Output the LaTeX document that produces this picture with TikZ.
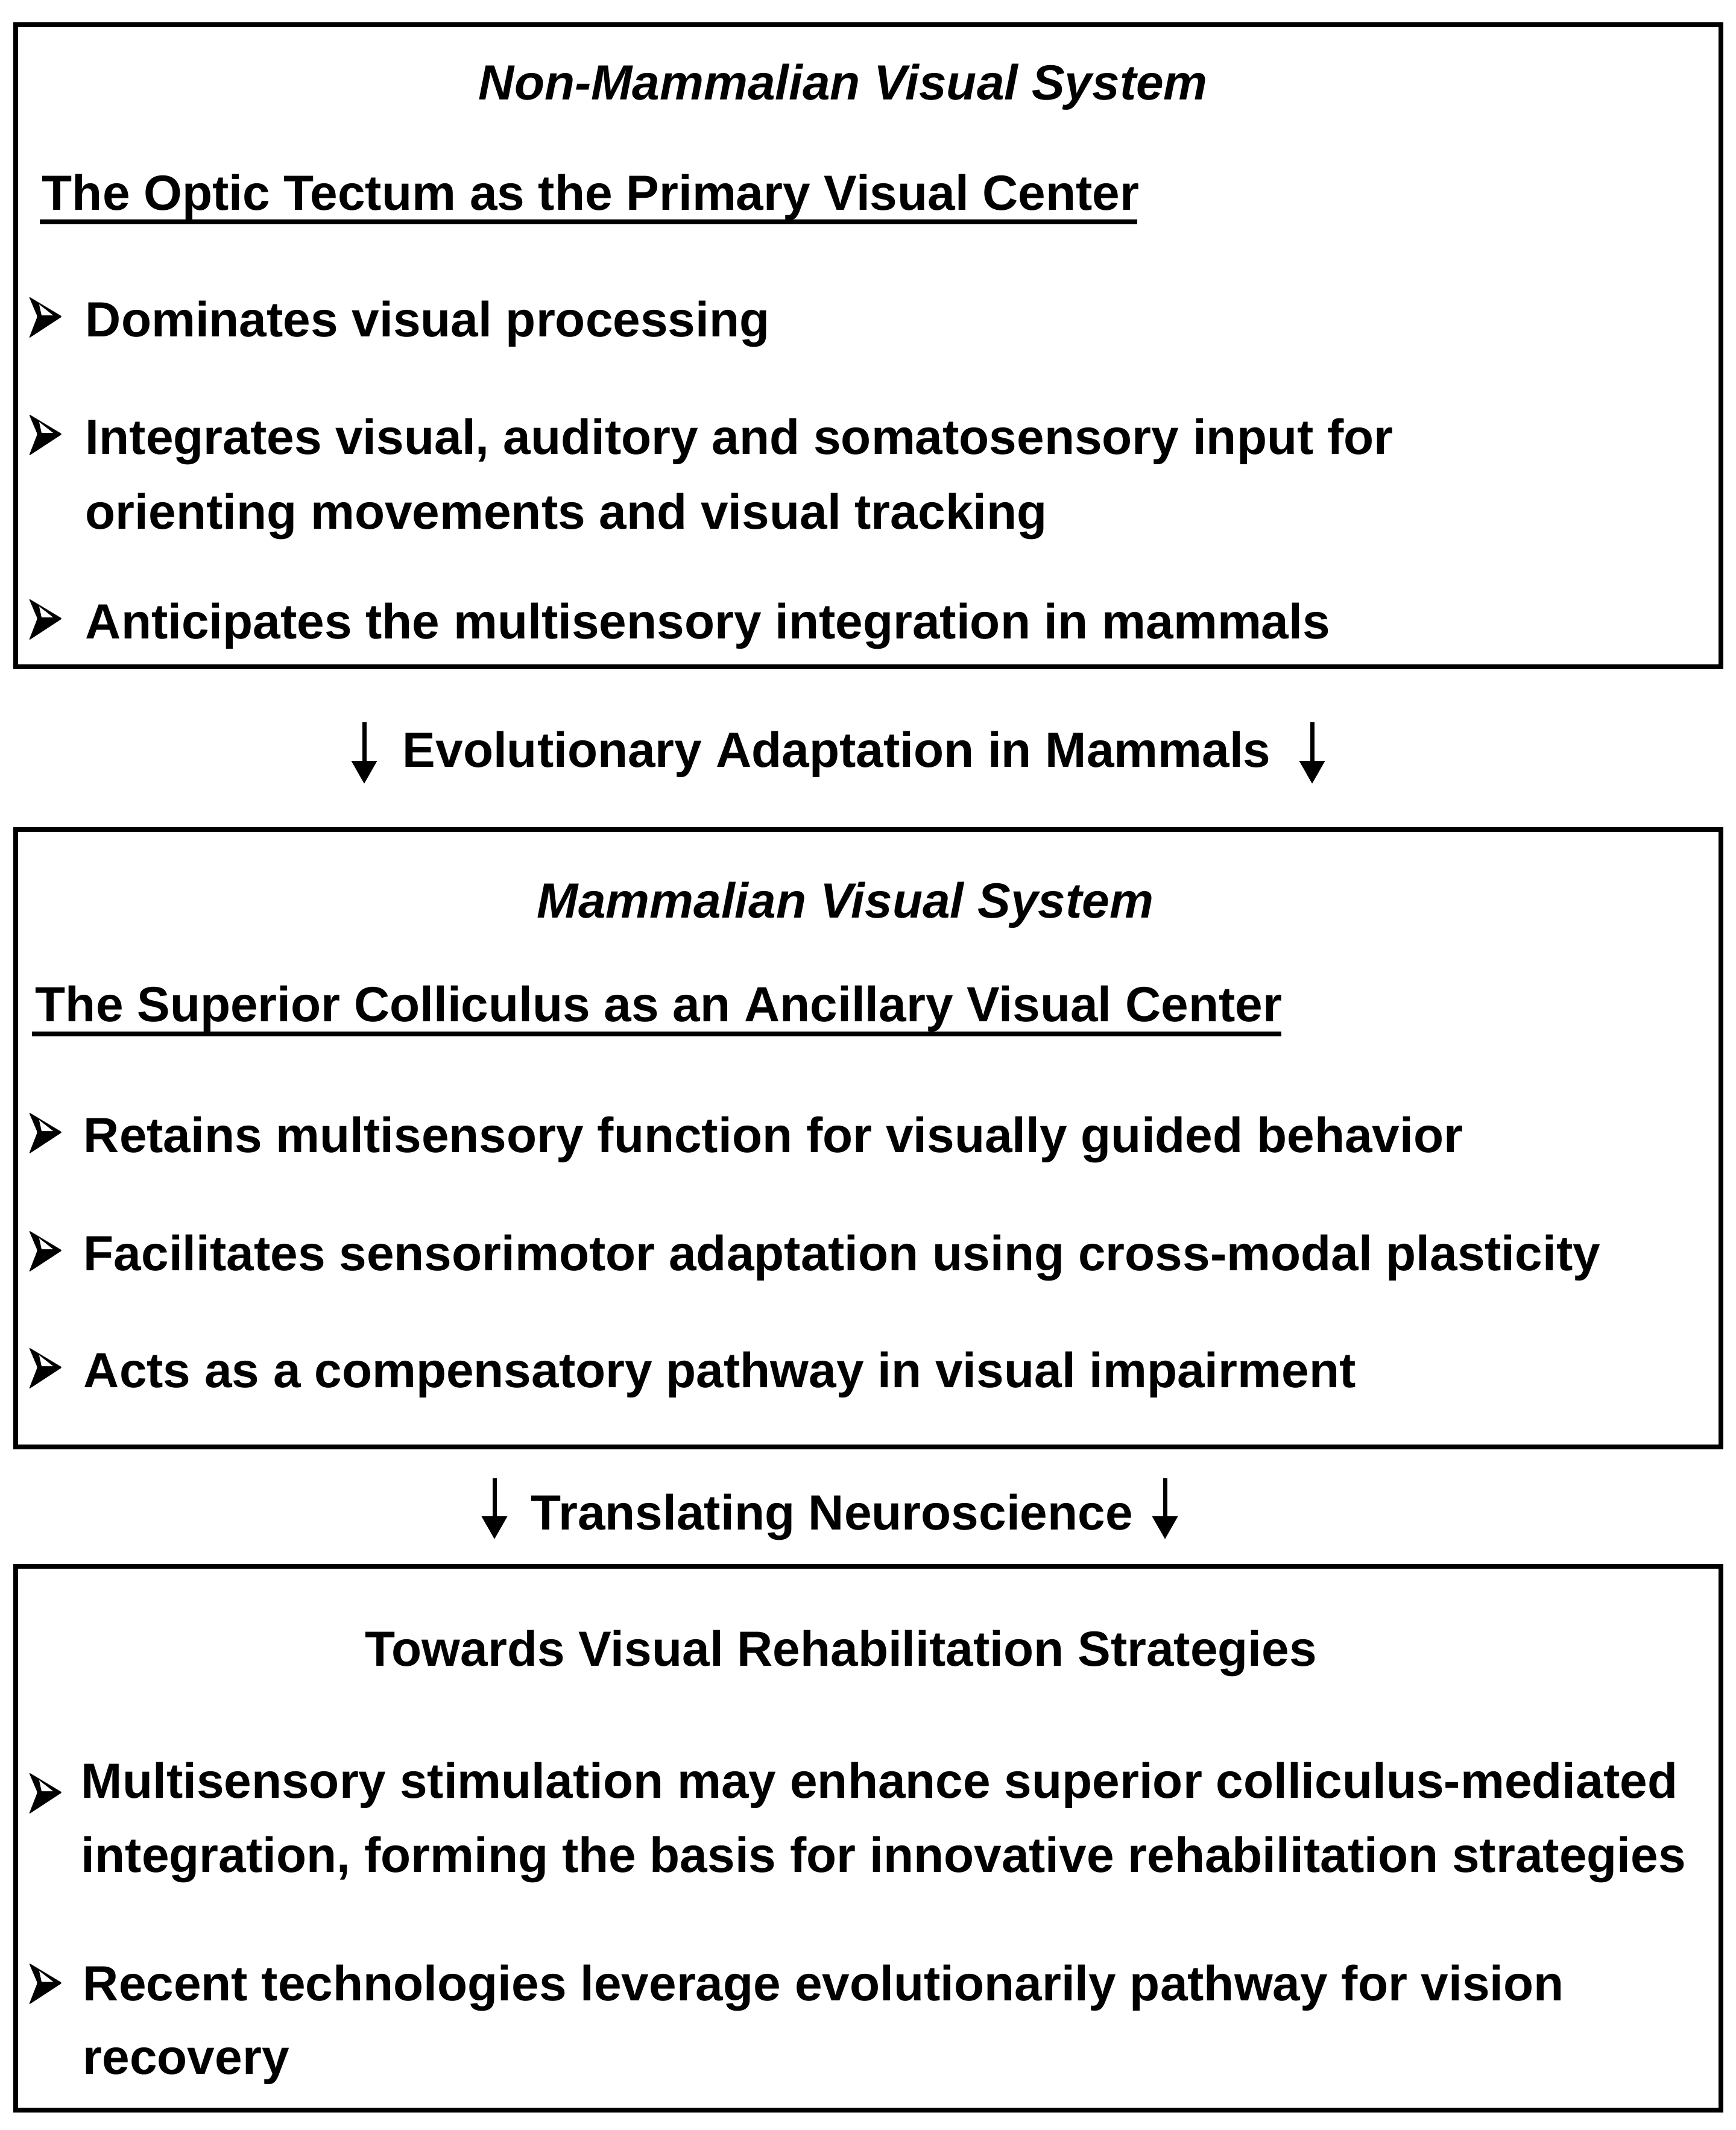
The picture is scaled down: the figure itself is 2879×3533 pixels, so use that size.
\documentclass[tikz,border=0pt]{standalone}
\usepackage{fontspec}
\setmainfont{Liberation Sans}
\usetikzlibrary{arrows.meta,calc}
\newcommand\mainfnt{\fontsize{20.5pt}{24pt}\selectfont\bfseries}
\tikzset{
  panel/.style={draw=black, line width=2pt, inner sep=0pt, minimum width=706.9pt},
  txt/.style={anchor=base west, inner sep=0pt, font=\mainfnt},
  ttl/.style={anchor=base west, inner sep=0pt, font=\mainfnt\itshape},
  flowarrow/.style={-{Triangle[width=10.25pt,length=9.5pt]}, line width=1.75pt},
  uline/.style={line width=2pt},
  arrowbullet/.pic={
    \fill[rounded corners=0.6pt] (0,0) -- (55,33) -- (0,69) -- (14,33) -- cycle;
    \fill[white] (17,13) -- (40,31) -- (21,31) -- cycle;
  }
}
\begin{document}
\begin{tikzpicture}[x=0.25pt,y=-0.25pt]
\useasboundingbox (0,0) rectangle (2879,3533);
% panels
\node[panel, minimum height=266.25pt] (box1) at (1440.25,573.5) {};
\node[panel, minimum height=256pt] (box2) at (1440.25,1888) {};
\node[panel, minimum height=225.5pt] (box3) at (1440.25,3049) {};

% box 1
\node[ttl] (t1) at (793,165) {Non-Mammalian Visual System};
\node[txt] (s1) at (69,348) {The Optic Tectum as the Primary Visual Center};
\draw[uline] ($(s1.base west)+(-3,20)$) -- ($(s1.base east)+(-4,20)$);
\pic at (48,492) {arrowbullet};
\node[txt] (b1) at (141,558) {Dominates visual processing};
\pic at (48,687) {arrowbullet};
\node[txt] (b2) at (141,753) {Integrates visual, auditory and somatosensory input for};
\node[txt] (b2b) at (141,877) {orienting movements and visual tracking};
\pic at (48,993) {arrowbullet};
\node[txt] (b3) at (141,1059) {Anticipates the multisensory integration in mammals};

% arrows 1
\coordinate (a1s) at (604,1198);
\coordinate (a1e) at (604,1300);
\coordinate (a2s) at (2176,1198);
\coordinate (a2e) at (2176,1300);
\draw[flowarrow] (a1s) -- (a1e);
\draw[flowarrow] (a2s) -- (a2e);
\node[txt] (l1) at (667,1272) {Evolutionary Adaptation in Mammals};

% box 2
\node[ttl] (t2) at (890,1522) {Mammalian Visual System};
\node[txt] (s2) at (58,1694) {The Superior Colliculus as an Ancillary Visual Center};
\draw[uline] ($(s2.base west)+(-5,21)$) -- ($(s2.base east)+(-2,21)$);
\pic at (48,1845) {arrowbullet};
\node[txt] (b4) at (138,1911) {Retains multisensory function for visually guided behavior};
\pic at (48,2041) {arrowbullet};
\node[txt] (b5) at (138,2107) {Facilitates sensorimotor adaptation using cross-modal plasticity};
\pic at (48,2235) {arrowbullet};
\node[txt] (b6) at (138,2301) {Acts as a compensatory pathway in visual impairment};

% arrows 2
\coordinate (a3s) at (820,2452);
\coordinate (a3e) at (820,2553);
\coordinate (a4s) at (1932,2452);
\coordinate (a4e) at (1932,2553);
\draw[flowarrow] (a3s) -- (a3e);
\draw[flowarrow] (a4s) -- (a4e);
\node[txt] (l2) at (880,2537) {Translating Neuroscience};

% box 3
\node[txt] (t3) at (605,2763) {Towards Visual Rehabilitation Strategies};
\pic at (48,2940) {arrowbullet};
\node[txt] (b7) at (134,2982) {Multisensory stimulation may enhance superior colliculus-mediated};
\node[txt] (b7b) at (134,3105) {integration, forming the basis for innovative rehabilitation strategies};
\pic at (48,3256) {arrowbullet};
\node[txt] (b8) at (137,3318) {Recent technologies leverage evolutionarily pathway for vision};
\node[txt] (b8b) at (137,3440) {recovery};
\end{tikzpicture}
\end{document}
